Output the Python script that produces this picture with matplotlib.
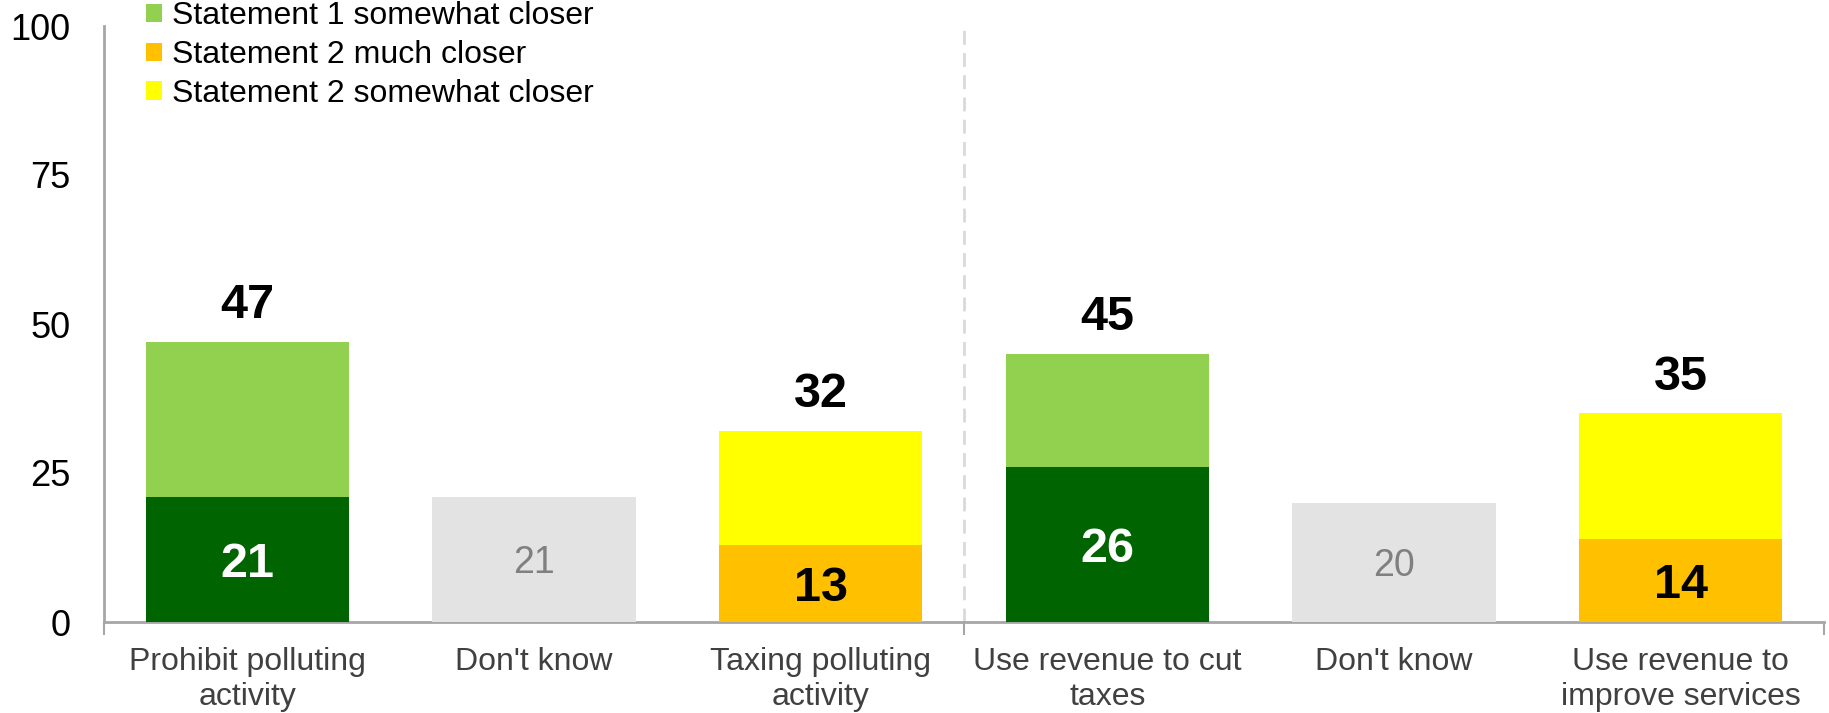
import numpy as np
import matplotlib
matplotlib.use("Agg")
import matplotlib.pyplot as plt
from matplotlib.patches import Patch

plt.rcParams['font.family'] = ['Liberation Sans', 'DejaVu Sans']

categories = ["Prohibit polluting\nactivity", "Don't know", "Taxing polluting\nactivity",
              "Use revenue to cut\ntaxes", "Don't know", "Use revenue to\nimprove services"]
s1_much = [21, 0, 0, 26, 0, 0]
s1_somewhat = [26, 0, 0, 19, 0, 0]
s2_much = [0, 0, 13, 0, 0, 14]
s2_somewhat = [0, 0, 19, 0, 0, 21]
dont_know = [0, 21, 0, 0, 20, 0]
y_ticks = [0, 25, 50, 75, 100]

C_S1_MUCH = "#006400"
C_S1_SOME = "#92D050"
C_S2_MUCH = "#FFC000"
C_S2_SOME = "#FFFF00"
C_DK = "#E3E3E3"
AXIS_GREY = "#A6A6A6"

W, H, DPI = 1829, 713, 100
fig = plt.figure(figsize=(W / DPI, H / DPI), dpi=DPI)
ax = fig.add_axes([104 / W, 1 - 622 / H, (1824 - 104) / W, (622 - 26) / H])

x = np.arange(len(categories))
bw = 0.71
a1 = np.array(s1_much, float)
a2 = np.array(s1_somewhat, float)
b1 = np.array(s2_much, float)
b2 = np.array(s2_somewhat, float)
dk = np.array(dont_know, float)

ax.bar(x, a1, bw, color=C_S1_MUCH, zorder=3)
ax.bar(x, a2, bw, bottom=a1, color=C_S1_SOME, zorder=3)
ax.bar(x, b1, bw, color=C_S2_MUCH, zorder=3)
ax.bar(x, b2, bw, bottom=b1, color=C_S2_SOME, zorder=3)
ax.bar(x, dk, bw, color=C_DK, zorder=3)

totals = a1 + a2 + b1 + b2
for i in range(len(x)):
    if a1[i] > 0:
        ax.text(x[i], a1[i] / 2, f"{a1[i]:.0f}", ha='center', va='center_baseline',
                fontsize=35, fontweight='bold', color='white', zorder=4)
    if b1[i] > 0:
        ax.text(x[i], b1[i] / 2, f"{b1[i]:.0f}", ha='center', va='center_baseline',
                fontsize=35, fontweight='bold', color='black', zorder=4)
    if dk[i] > 0:
        ax.text(x[i], dk[i] / 2, f"{dk[i]:.0f}", ha='center', va='center_baseline',
                fontsize=27, color='#808080', zorder=4)
    if totals[i] > 0 and (a2[i] > 0 or b2[i] > 0):
        ax.annotate(f"{totals[i]:.0f}", (x[i], totals[i]), xytext=(0, 10),
                    textcoords='offset points', ha='center', va='bottom',
                    fontsize=35, fontweight='bold', color='black', zorder=4)

# divider between the two question groups
ax.axvline(2.5, ymin=0, ymax=1, color='#D9D9D9', lw=2, ls=(0, (5, 3)), zorder=1)

ax.set_xlim(-0.5, 5.5)
ax.set_ylim(0, 100)
ax.set_yticks(y_ticks)
ax.set_yticklabels([str(t) for t in y_ticks], fontsize=26, color='black')
ax.tick_params(axis='y', length=0, pad=24)

ax.set_xticks(x)
ax.set_xticklabels(categories, fontsize=23, color='#404040', linespacing=1.2)
ax.tick_params(axis='x', which='major', length=0, pad=18)
ax.set_xticks([-0.5, 2.5, 5.5], minor=True)
ax.tick_params(axis='x', which='minor', length=9, width=1.5, color=AXIS_GREY)

for side in ('top', 'right'):
    ax.spines[side].set_visible(False)
for side in ('left', 'bottom'):
    ax.spines[side].set_color(AXIS_GREY)
    ax.spines[side].set_linewidth(2)

handles = [Patch(facecolor=C_S1_SOME, label="Statement 1 somewhat closer"),
           Patch(facecolor=C_S2_MUCH, label="Statement 2 much closer"),
           Patch(facecolor=C_S2_SOME, label="Statement 2 somewhat closer")]
fig.legend(handles=handles, loc='upper left', bbox_to_anchor=(146 / W, 1 - 1 / H),
           frameon=False, fontsize=23, handlelength=0.5, handleheight=0.5,
           handletextpad=0.3, labelspacing=0.28, borderpad=0, borderaxespad=0)

fig.savefig("out.png", dpi=DPI)
